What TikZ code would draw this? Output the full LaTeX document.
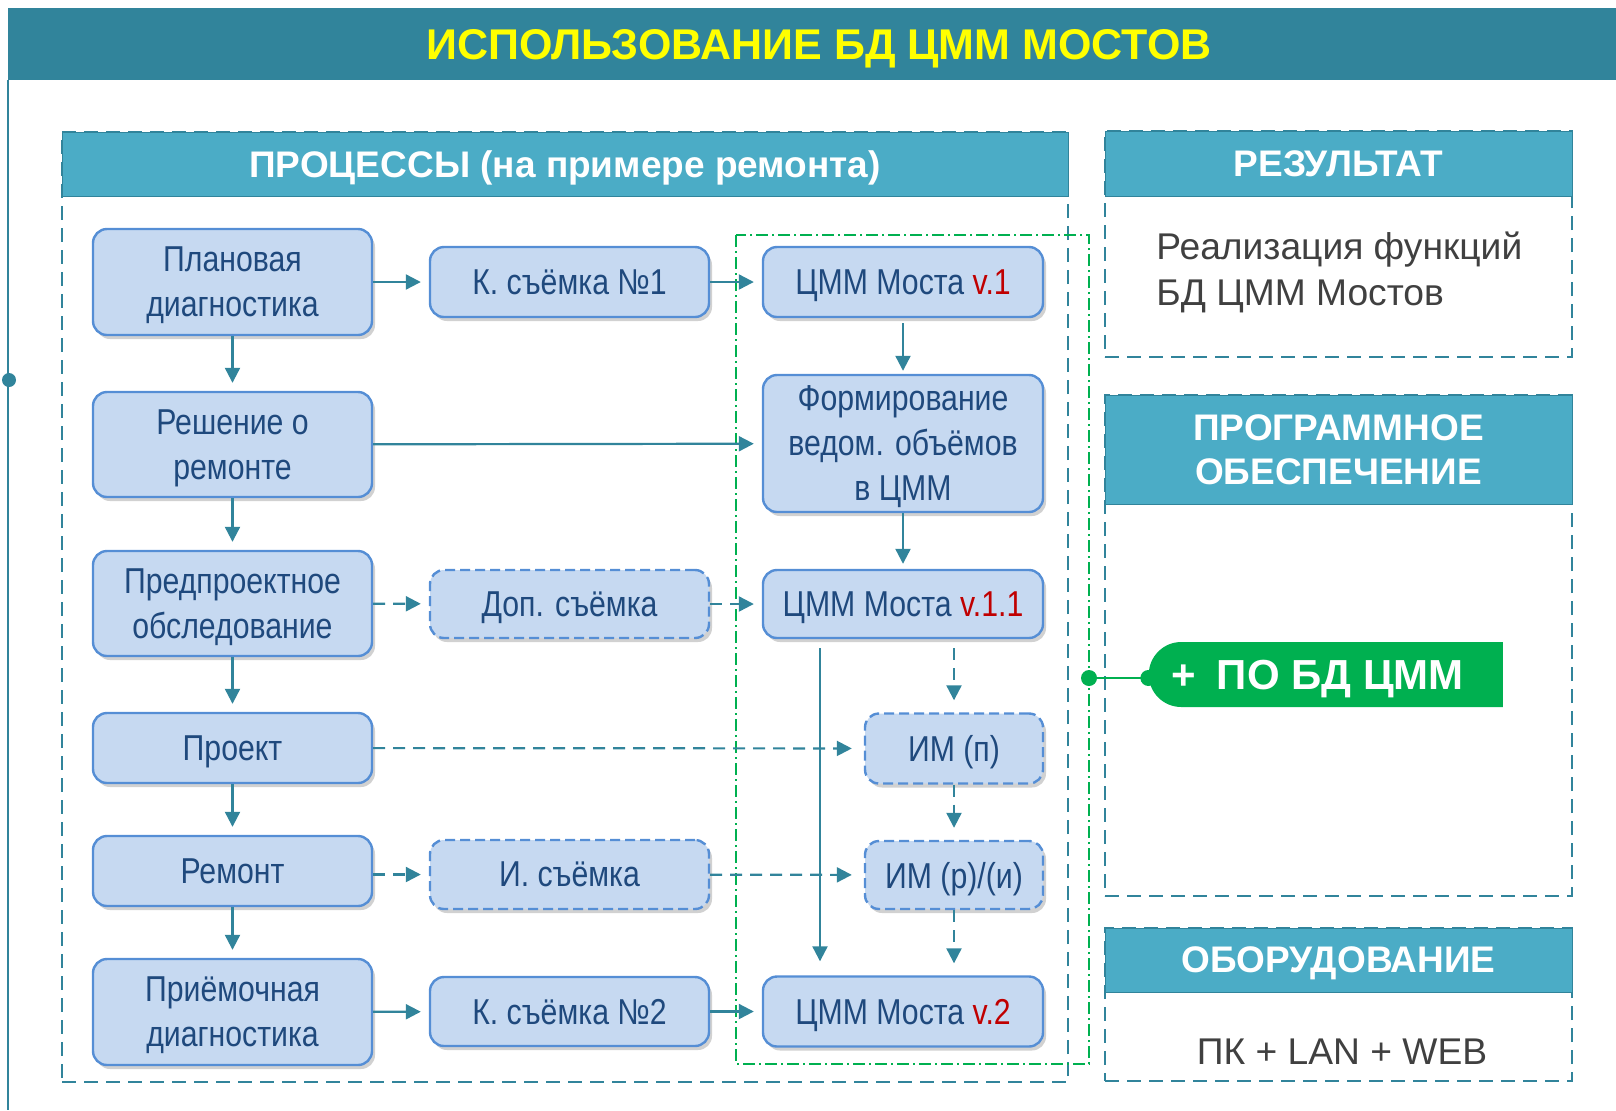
\documentclass[tikz,border=0pt]{standalone}
\usepackage{fontspec}
\setmainfont{Liberation Sans}
\newfontfamily\narrowfont[FakeStretch=0.84]{Liberation Sans}
\usetikzlibrary{arrows.meta,shadows,shapes.misc}

\definecolor{tealdark}{HTML}{31849B}
\definecolor{tealhead}{HTML}{4BACC6}
\definecolor{boxfill}{HTML}{C6D9F1}
\definecolor{boxline}{HTML}{558ED5}
\definecolor{boxtext}{HTML}{1F497D}
\definecolor{vred}{HTML}{C00000}
\definecolor{pogreen}{HTML}{00B050}
\definecolor{bodytext}{HTML}{404040}
\definecolor{titleyellow}{HTML}{FFFF00}

\newcommand{\ver}[1]{\textcolor{vred}{#1}}

\begin{document}
\begin{tikzpicture}[
		x=0.5pt, y=-0.5pt,
		proc/.style = {draw=boxline, fill=boxfill, line width=1.2pt, rounded corners=7pt,
			text=boxtext, align=center, inner sep=2pt, minimum width=139.5pt, text depth=-3.5pt,
			font=\narrowfont\fontsize{18}{22.5}\selectfont,
			drop shadow={shadow xshift=1.5pt, shadow yshift=-2pt, opacity=0.3, fill=black!60}},
		procdash/.style = {proc, dash pattern=on 5pt off 2.5pt},
		arr/.style = {draw=tealdark, line width=1.1pt, -{Triangle[length=7.5pt,width=7.5pt]}, shorten >=4pt},
		arrdash/.style = {arr, dash pattern=on 6pt off 4pt},
		panel/.style = {draw=tealdark, line width=1.2pt, dash pattern=on 7pt off 4pt, inner sep=0pt},
		hdr/.style = {fill=tealhead, draw=tealdark, line width=0.5pt, text=white, align=center,
			inner sep=0pt, text depth=0pt, font=\bfseries\fontsize{18.5}{22}\selectfont},
		bodytxt/.style = {text=bodytext, inner sep=0pt, font=\fontsize{18.6}{23}\selectfont},
		grpframe/.style = {draw=pogreen, line width=0.9pt, dash pattern=on 6pt off 2pt on 1pt off 2pt},
		pill/.style = {rounded rectangle, rounded rectangle east arc=none, fill=pogreen, text=white,
			inner sep=0pt, minimum width=177pt, minimum height=32.5pt, text depth=0pt,
			font=\bfseries\fontsize{21}{24}\selectfont}
	]
	\useasboundingbox (0,0) rectangle (1616,1110);

	% Title.
	\node[fill=tealdark, minimum width=804pt, minimum height=36pt, inner sep=0pt, text=titleyellow,
		text depth=-1.7pt, font=\bfseries\fontsize{21.5}{24}\selectfont]
		(title) at (812,44) {\hspace*{7pt}ИСПОЛЬЗОВАНИЕ БД ЦММ МОСТОВ};
	\draw[tealdark, line width=1pt] (title.south west) -- (title.south west |- 0,1110);
	\coordinate (ldot) at (9,380);
	\fill[tealdark] (ldot) circle (3.5pt);

	% Panels.
	\node[panel, minimum width=503pt, minimum height=475pt] (procpanel) at (565,607) {};
	\node[hdr, minimum width=503pt, minimum height=32pt] (prochdr) at (565,164) {ПРОЦЕССЫ (на примере ремонта)};

	\node[panel, minimum width=233.5pt, minimum height=113pt] (respanel) at (1338.5,244) {};
	\node[hdr, minimum width=233.5pt, minimum height=32.5pt] (reshdr) at (1338.5,163.5) {РЕЗУЛЬТАТ};
	\node[bodytxt, anchor=west, align=left] (restxt) at (1156,272) {Реализация функций\\БД ЦММ Мостов};

	\node[panel, minimum width=233.5pt, minimum height=250.5pt] (popanel) at (1338.5,645.5) {};
	\node[hdr, minimum width=233.5pt, minimum height=54.5pt] (pohdr) at (1338.5,449.5) {ПРОГРАММНОЕ\\ОБЕСПЕЧЕНИЕ};

	\node[panel, minimum width=233.5pt, minimum height=76.5pt] (hwpanel) at (1338.5,1004.5) {};
	\node[hdr, minimum width=233.5pt, minimum height=32pt] (hwhdr) at (1338.5,960) {ОБОРУДОВАНИЕ};
	\node[bodytxt] (hwtxt) at (1342,1052) {ПК + LAN + WEB};

	% Model group.
	\draw[grpframe] (736,235) rectangle (1089,1064);
	\coordinate (gdot) at (1089,678);

	% Left column.
	\node[proc, minimum height=53pt] (plan) at (232.5,282) {Плановая\\диагностика};
	\node[proc, minimum height=52.5pt] (resh) at (232.5,444.5) {Решение о\\ремонте};
	\node[proc, minimum height=52.5pt] (pred) at (232.5,603.5) {Предпроектное\\обследование};
	\node[proc, minimum height=35pt] (proekt) at (232.5,748) {Проект};
	\node[proc, minimum height=35pt] (remont) at (232.5,871) {Ремонт};
	\node[proc, minimum height=53pt] (priem) at (232.5,1012) {Приёмочная\\диагностика};
	% Middle column.
	\node[proc, minimum height=35pt] (ksem1) at (569.5,282) {К. съёмка №1};
	\node[procdash, minimum height=34pt] (dop) at (569.5,604) {Доп. съёмка};
	\node[procdash, minimum height=34.5pt] (isem) at (569.5,874.5) {И. съёмка};
	\node[proc, minimum height=34.5pt] (ksem2) at (569.5,1011.5) {К. съёмка №2};
	% Right column.
	\node[proc, minimum width=140pt, minimum height=35pt] (v1) at (903,282) {ЦММ Моста \ver{v.1}};
	\node[proc, minimum width=140pt, minimum height=68.5pt, text depth=-8pt] (form) at (903,443.5) {Формирование\\ведом. объёмов\\в ЦММ};
	\node[proc, minimum width=140pt, minimum height=34pt] (v11) at (903,604) {ЦММ Моста \ver{v.1.1}};
	\node[procdash, minimum width=89pt, minimum height=35pt] (imp) at (954,748.5) {ИМ (п)};
	\node[procdash, minimum width=89pt, minimum height=34pt] (imr) at (954,875) {ИМ (р)/(и)};
	\node[proc, minimum width=140pt, minimum height=35pt] (v2) at (903,1011.5) {ЦММ Моста \ver{v.2}};

	\draw[arr] (plan) -- (ksem1);
	\draw[arr] (ksem1) -- (v1);
	\draw[arr] (plan) -- (resh);
	\draw[arr] (resh) -- (form);
	\draw[arr] (resh) -- (pred);
	\draw[arr] (pred) -- (proekt);
	\draw[arr] (proekt) -- (remont);
	\draw[arr] (remont) -- (priem);
	\draw[arr] (priem) -- (ksem2);
	\draw[arr] (ksem2) -- (v2);
	\draw[arr, shorten <=2.5pt, shorten >=1.5pt] (v1) -- (form);
	\draw[arr, shorten >=2.5pt] (form) -- (v11);
	\draw[arrdash] (pred) -- (dop);
	\draw[arrdash] (dop) -- (v11);
	\draw[arrdash, shorten >=6pt] (proekt) -- (imp);
	\draw[arrdash] (remont.east |- isem.west) -- (isem.west);
	\draw[arrdash, shorten >=6pt] (isem) -- (imr);
	\draw[arrdash, shorten <=4.5pt, shorten >=6pt] (v11.south -| imp.north) -- (imp.north);
	\draw[arrdash, shorten >=6pt] (imp) -- (imr);
	\draw[arrdash, shorten >=6pt] (imr.south) -- (imr.south |- v2.north);
	\draw[arr, shorten <=4.5pt, shorten >=7pt] ([xshift=-41.5pt]v11.south) -- ([xshift=-41.5pt]v2.north);

	% Software.
	\node[pill] (po) at (1327.5,674.5) {+\hspace{0.5em}ПО БД ЦММ\hspace*{10pt}};
	\draw[pogreen, line width=1.2pt] (gdot) -- (gdot -| po.west);
	\fill[pogreen] (gdot) circle (4pt);
	\fill[pogreen] (gdot -| po.west) circle (4pt);
\end{tikzpicture}
\end{document}
